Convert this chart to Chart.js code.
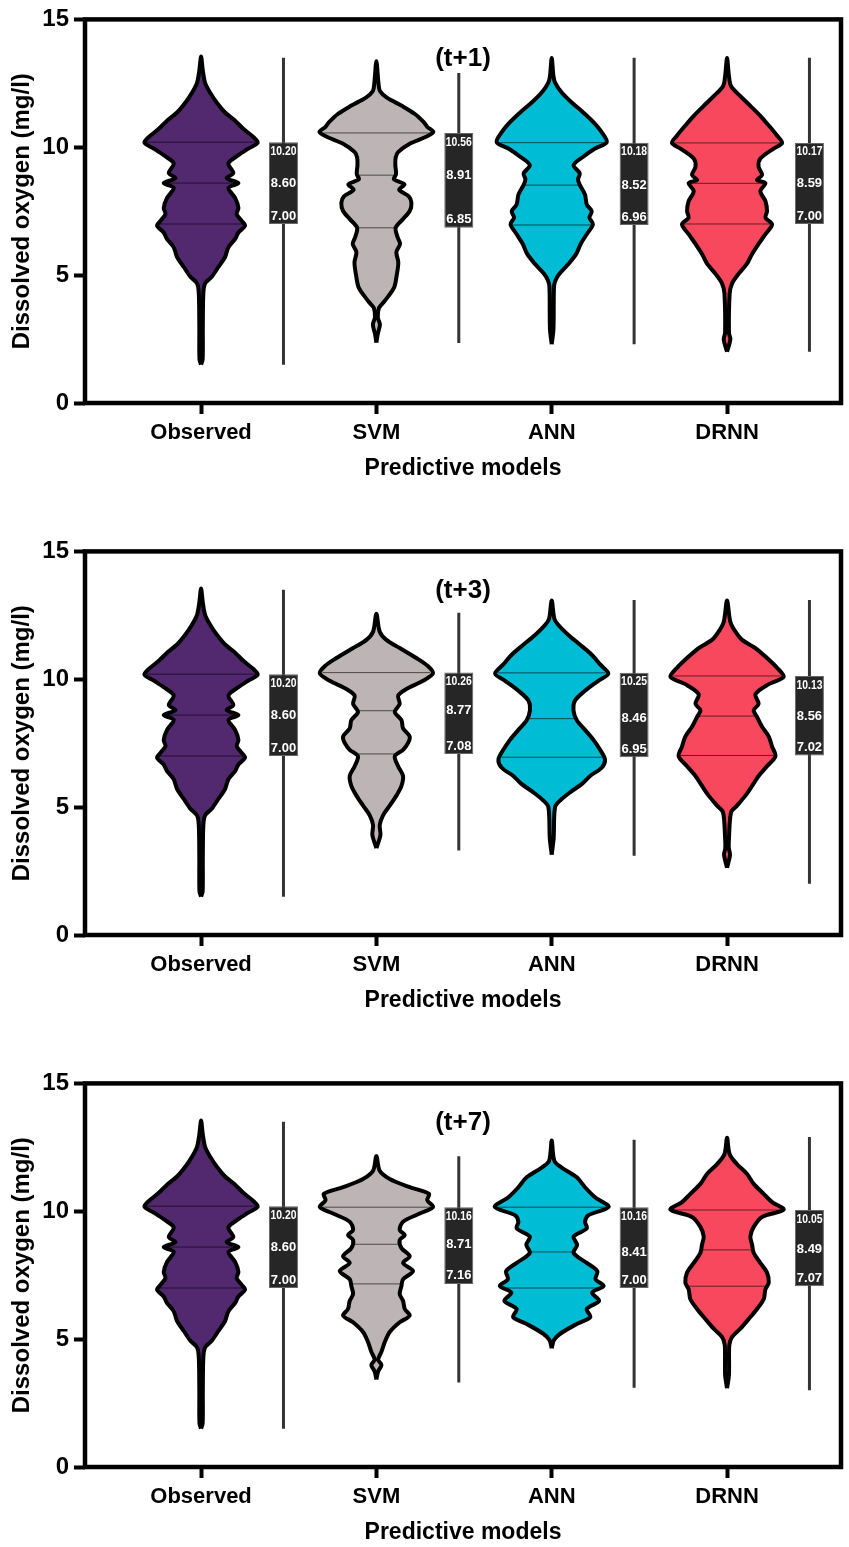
<!DOCTYPE html>
<html><head><meta charset="utf-8">
<script src="https://cdn.jsdelivr.net/npm/chart.js@4.4.1/dist/chart.umd.min.js"></script>
<style>
html,body{margin:0;padding:0;background:#fff;width:849px;height:1547px;overflow:hidden}
canvas{position:absolute;left:0}
</style></head><body>
<canvas id="c1" width="849" height="490" style="top:0px"></canvas>
<canvas id="c2" width="849" height="490" style="top:532px"></canvas>
<canvas id="c3" width="849" height="490" style="top:1064px"></canvas>
<script>
// ---------------- data ----------------
const categories = ['Observed', 'SVM', 'ANN', 'DRNN'];
const panelTitles = ['(t+1)', '(t+3)', '(t+7)'];
const yTicks = [0, 5, 10, 15];
const violinColors = ['#52296F', '#BDB5B5', '#00BCD4', '#F7485E'];

// quartiles / whisker ends per panel
const q3_t1 = [10.20, 10.56, 10.18, 10.17];
const med_t1 = [8.60, 8.91, 8.52, 8.59];
const q1_t1 = [7.00, 6.85, 6.96, 7.00];
const min_t1 = [1.5, 2.35, 2.3, 2.0];
const max_t1 = [13.5, 12.9, 13.5, 13.5];

const q3_t3 = [10.20, 10.26, 10.25, 10.13];
const med_t3 = [8.60, 8.77, 8.46, 8.56];
const q1_t3 = [7.00, 7.08, 6.95, 7.02];
const min_t3 = [1.5, 3.3, 3.1, 2.0];
const max_t3 = [13.5, 12.6, 13.1, 13.1];

const q3_t7 = [10.20, 10.16, 10.16, 10.05];
const med_t7 = [8.60, 8.71, 8.41, 8.49];
const q1_t7 = [7.00, 7.16, 7.00, 7.07];
const min_t7 = [1.5, 3.3, 3.1, 3.0];
const max_t7 = [13.5, 12.15, 12.8, 12.9];

// violin outlines: [DO value, half-width of density (category units)]
const observedShape = [[1.5,0],[1.7,0.009],[3.0,0.01],[4.29,0.013],[4.68,0.023],[4.94,0.061],[5.32,0.099],[5.71,0.137],[6.09,0.156],[6.41,0.194],[6.67,0.213],[6.93,0.251],[7.12,0.232],[7.38,0.203],[7.63,0.213],[8.02,0.194],[8.41,0.156],[8.6,0.213],[8.79,0.146],[8.99,0.184],[9.37,0.156],[9.69,0.213],[9.95,0.27],[10.18,0.323],[10.4,0.298],[10.72,0.241],[11.04,0.194],[11.36,0.137],[11.75,0.089],[12.14,0.051],[12.52,0.023],[13.0,0.01],[13.55,0]];

const svmShape_t1 = [[2.36,0],[2.7,0.008],[3.07,0.02],[3.35,0.008],[3.72,0.015],[3.97,0.045],[4.5,0.1],[5.0,0.116],[5.5,0.125],[5.9,0.114],[6.22,0.135],[6.5,0.12],[6.86,0.11],[7.18,0.15],[7.51,0.19],[7.83,0.2],[8.08,0.185],[8.34,0.13],[8.55,0.16],[8.75,0.1],[8.95,0.112],[9.3,0.108],[9.6,0.11],[9.82,0.125],[10.14,0.19],[10.4,0.28],[10.6,0.325],[10.8,0.29],[10.98,0.27],[11.3,0.22],[11.62,0.145],[11.94,0.06],[12.2,0.02],[12.5,0.012],[13.36,0]];
const annShape_t1 = [[2.3,0],[2.9,0.01],[4.55,0.013],[4.8,0.022],[5.06,0.045],[5.45,0.097],[5.83,0.14],[6.22,0.165],[6.6,0.2],[6.99,0.235],[7.25,0.215],[7.5,0.228],[7.76,0.2],[8.15,0.19],[8.53,0.16],[8.75,0.15],[8.98,0.16],[9.3,0.125],[9.63,0.18],[9.95,0.247],[10.2,0.314],[10.59,0.285],[10.98,0.238],[11.36,0.18],[11.75,0.114],[12.14,0.057],[12.52,0.02],[12.78,0.01],[13.49,0]];
const drnnShape_t1 = [[2.0,0],[2.49,0.019],[2.75,0.011],[4.29,0.015],[4.68,0.029],[5.06,0.067],[5.45,0.114],[5.83,0.143],[6.22,0.18],[6.6,0.219],[6.99,0.257],[7.24,0.219],[7.5,0.228],[7.89,0.219],[8.28,0.19],[8.6,0.219],[8.72,0.171],[8.92,0.2],[9.24,0.18],[9.56,0.19],[9.95,0.266],[10.17,0.314],[10.46,0.285],[10.85,0.238],[11.23,0.19],[11.62,0.133],[12.0,0.076],[12.39,0.023],[12.78,0.011],[13.49,0]];

const svmShape_t3 = [[3.4,0],[3.91,0.023],[4.3,0.019],[4.68,0.038],[5.06,0.076],[5.45,0.114],[5.83,0.143],[6.22,0.152],[6.6,0.124],[6.99,0.105],[7.24,0.152],[7.5,0.18],[7.76,0.19],[8.08,0.152],[8.4,0.143],[8.72,0.105],[9.04,0.133],[9.36,0.124],[9.62,0.171],[9.94,0.266],[10.23,0.323],[10.51,0.295],[10.83,0.228],[11.22,0.133],[11.54,0.057],[11.86,0.019],[12.56,0]];
const annShape_t3 = [[3.14,0],[3.78,0.011],[5.0,0.019],[5.26,0.048],[5.58,0.105],[5.9,0.171],[6.22,0.219],[6.54,0.285],[6.86,0.304],[7.24,0.276],[7.63,0.238],[8.02,0.19],[8.4,0.143],[8.79,0.124],[9.17,0.133],[9.55,0.19],[9.94,0.266],[10.22,0.323],[10.58,0.276],[10.96,0.228],[11.35,0.162],[11.73,0.095],[12.12,0.038],[12.37,0.015],[13.08,0]];
const drnnShape_t3 = [[2.63,0],[3.14,0.017],[3.4,0.01],[3.78,0.011],[4.8,0.023],[5.06,0.057],[5.45,0.105],[5.83,0.143],[6.22,0.18],[6.6,0.228],[6.99,0.276],[7.37,0.257],[7.76,0.238],[8.14,0.2],[8.53,0.171],[8.79,0.152],[9.04,0.18],[9.42,0.162],[9.81,0.238],[10.09,0.323],[10.45,0.285],[10.83,0.228],[11.22,0.162],[11.54,0.086],[11.86,0.048],[12.24,0.019],[13.08,0]];

const svmShape_t7 = [[3.42,0],[3.74,0.01],[3.99,0.029],[4.19,0.01],[4.51,0.029],[4.89,0.048],[5.28,0.076],[5.66,0.133],[5.92,0.19],[6.18,0.162],[6.5,0.152],[6.76,0.133],[7.08,0.143],[7.34,0.152],[7.66,0.209],[7.98,0.152],[8.24,0.19],[8.56,0.143],[8.88,0.133],[9.07,0.162],[9.27,0.133],[9.59,0.152],[9.91,0.247],[10.17,0.323],[10.43,0.29],[10.68,0.3],[10.94,0.19],[11.26,0.076],[11.58,0.019],[12.16,0]];
const annShape_t7 = [[4.64,0],[4.97,0.013],[5.22,0.05],[5.6,0.145],[5.86,0.22],[6.18,0.2],[6.5,0.27],[6.82,0.23],[7.08,0.296],[7.34,0.25],[7.66,0.26],[7.98,0.2],[8.37,0.125],[8.69,0.145],[9.01,0.125],[9.33,0.2],[9.59,0.19],[9.85,0.21],[10.17,0.325],[10.55,0.247],[10.94,0.19],[11.33,0.143],[11.71,0.057],[11.97,0.015],[12.77,0]];
const drnnShape_t7 = [[3.08,0],[3.6,0.011],[4.77,0.013],[5.09,0.029],[5.41,0.076],[5.79,0.124],[6.18,0.171],[6.56,0.209],[6.95,0.219],[7.21,0.238],[7.6,0.228],[7.98,0.19],[8.37,0.152],[8.69,0.143],[9.01,0.133],[9.39,0.152],[9.78,0.2],[10.06,0.323],[10.36,0.257],[10.68,0.209],[11.07,0.152],[11.46,0.114],[11.84,0.057],[12.23,0.015],[12.87,0]];

// ---------------- layout / style ----------------
const BOX_OFFSET = 0.47;
const X_MIN = 0.338, X_MAX = 4.65;
const FONT = '"Liberation Sans", Arial, Helvetica, sans-serif';
Chart.defaults.font.family = FONT;
Chart.defaults.color = '#000';

const panels = [
  {id:'c1', title:panelTitles[0], shapes:[observedShape, svmShape_t1, annShape_t1, drnnShape_t1], q1:q1_t1, med:med_t1, q3:q3_t1, lo:min_t1, hi:max_t1},
  {id:'c2', title:panelTitles[1], shapes:[observedShape, svmShape_t3, annShape_t3, drnnShape_t3], q1:q1_t3, med:med_t3, q3:q3_t3, lo:min_t3, hi:max_t3},
  {id:'c3', title:panelTitles[2], shapes:[observedShape, svmShape_t7, annShape_t7, drnnShape_t7], q1:q1_t7, med:med_t7, q3:q3_t7, lo:min_t7, hi:max_t7}
];

function outline(center, shape) {
  const right = shape.map(([v, w]) => ({x: center + w, y: v}));
  const left = shape.slice(0, -1).reverse().map(([v, w]) => ({x: center - w, y: v}));
  return right.concat(left);
}
function halfWidthAt(shape, v) {
  for (let i = 0; i < shape.length - 1; i++) {
    const [v0, w0] = shape[i], [v1, w1] = shape[i + 1];
    if (v >= v0 && v <= v1) return w0 + (w1 - w0) * (v - v0) / (v1 - v0);
  }
  return 0;
}

const decor = {
  id: 'decor',
  afterDatasetsDraw(chart, args, opts) {
    const P = opts.panel;
    const {ctx, chartArea: a, scales: {x, y}} = chart;
    ctx.save();
    ctx.fillStyle = '#fff';
    ctx.textAlign = 'center';
    ctx.textBaseline = 'middle';
    ctx.font = 'bold 13px ' + FONT;
    categories.forEach((c, i) => {
      const px = x.getPixelForValue(i + 1 + BOX_OFFSET);
      const yt = y.getPixelForValue(P.q3[i]);
      const ym = y.getPixelForValue(P.med[i]);
      const yb = y.getPixelForValue(P.q1[i]);
      ctx.fillText(P.q3[i].toFixed(2), px, yt + 9, 26);
      ctx.fillText(P.med[i].toFixed(2), px, ym, 26);
      ctx.fillText(P.q1[i].toFixed(2), px, yb - 8, 26);
    });
    ctx.fillStyle = '#000';
    ctx.font = 'bold 26px ' + FONT;
    ctx.fillText(P.title, (a.left + a.right) / 2, a.top + 39);
    ctx.strokeStyle = '#000';
    ctx.lineWidth = 4.5;
    ctx.strokeRect(a.left, a.top, a.right - a.left, a.bottom - a.top);
    ctx.restore();
  }
};

panels.forEach(P => {
  const datasets = [];
  P.shapes.forEach((shape, i) => {
    const c = i + 1;
    datasets.push({
      type: 'scatter', data: outline(c, shape), showLine: true, fill: 'shape',
      backgroundColor: violinColors[i], borderColor: '#000', borderWidth: 4,
      tension: 0.3, pointRadius: 0, pointHoverRadius: 0, order: 3
    });
    [P.q1[i], P.med[i], P.q3[i]].forEach(v => {
      const w = halfWidthAt(shape, v) * 0.96;
      datasets.push({
        type: 'scatter', data: [{x: c - w, y: v}, {x: c + w, y: v}], showLine: true, fill: false,
        borderColor: 'rgba(0,0,0,0.6)', borderWidth: 1, pointRadius: 0, pointHoverRadius: 0, order: 2
      });
    });
  });
  datasets.push({
    type: 'bar', data: categories.map((c, i) => ({x: i + 1 + BOX_OFFSET, y: [P.lo[i], P.hi[i]]})),
    backgroundColor: '#333', grouped: false, maxBarThickness: 3, order: 1
  });
  datasets.push({
    type: 'bar', data: categories.map((c, i) => ({x: i + 1 + BOX_OFFSET, y: [P.q1[i], P.q3[i]]})),
    backgroundColor: '#262626', borderColor: '#666', borderWidth: 1, borderSkipped: false,
    grouped: false, maxBarThickness: 29, order: 0
  });

  new Chart(document.getElementById(P.id), {
    type: 'scatter',
    data: {datasets},
    options: {
      responsive: false, animation: false, devicePixelRatio: 1, events: [],
      layout: {padding: {left: 0, right: 8, top: 14, bottom: 0}},
      plugins: {legend: {display: false}, tooltip: {enabled: false}, decor: {panel: P}},
      scales: {
        x: {
          type: 'linear', min: X_MIN, max: X_MAX, offset: false,
          afterBuildTicks: s => { s.ticks = categories.map((c, i) => ({value: i + 1})); },
          afterFit: s => { s.height = 87; },
          ticks: {autoSkip: false, maxRotation: 0, padding: 6, font: {size: 22, weight: 'bold'}, color: '#000',
                  callback: v => categories[Math.round(v) - 1]},
          grid: {display: true, offset: false, drawOnChartArea: false, drawTicks: true, tickLength: 11, tickWidth: 4, tickColor: '#000'},
          border: {display: false},
          title: {display: true, text: 'Predictive models', font: {size: 23, weight: 'bold'}, color: '#000', padding: {top: 0, bottom: 8}}
        },
        y: {
          type: 'linear', min: 0, max: 15,
          afterBuildTicks: s => { s.ticks = yTicks.map(v => ({value: v})); },
          afterFit: s => { s.width = 85; },
          ticks: {padding: 5, font: {size: 24, weight: 'bold'}, color: '#000'},
          grid: {display: true, offset: false, drawOnChartArea: false, drawTicks: true, tickLength: 11, tickWidth: 4, tickColor: '#000'},
          border: {display: false},
          title: {display: true, text: 'Dissolved oxygen (mg/l)', font: {size: 24, weight: 'bold'}, color: '#000', padding: {top: 7.5, bottom: 0}}
        }
      }
    },
    plugins: [decor]
  });
});
</script>
</body></html>
